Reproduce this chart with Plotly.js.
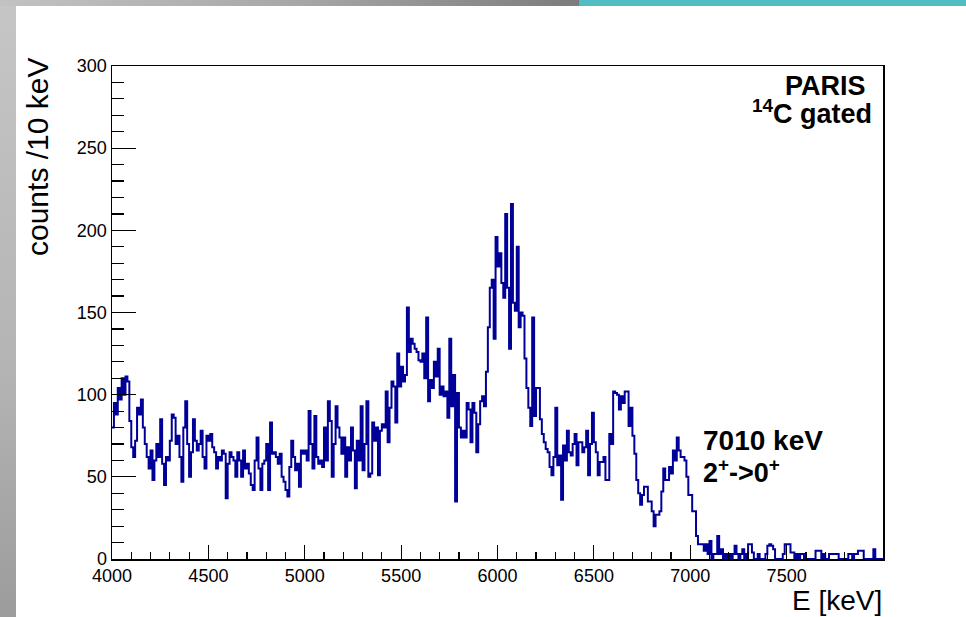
<!DOCTYPE html>
<html>
<head>
<meta charset="utf-8">
<script src="https://cdn.plot.ly/plotly-3.0.1.min.js"></script>
<style>
  html, body { margin: 0; padding: 0; }
  body { width: 966px; height: 617px; position: relative; overflow: hidden;
         background: linear-gradient(180deg, #c6c6c6 0%, #b4b4b4 60%, #9c9c9c 100%); }
  #topbar { position: absolute; left: 0; top: 0; width: 579px; height: 6px;
            background: linear-gradient(90deg, #c2c2c2 0%, #a8a8a8 50%, #7c7c7c 100%); }
  #teal { position: absolute; left: 579px; top: 0; width: 387px; height: 6px; background: #52bcc4; }
  #panel { position: absolute; left: 16px; top: 6px; width: 950px; height: 611px; background: #ffffff; }
  #plot { position: absolute; left: 0; top: 0; width: 966px; height: 617px; }
</style>
</head>
<body>
<div id="topbar"></div>
<div id="teal"></div>
<div id="panel"></div>
<div id="plot"></div>
<script>
// ---- data: 10 keV bins from 4000 keV to 8000 keV ----
const energyStart = 4000;   // keV, lower edge of first bin
const binWidth = 10;        // keV
const counts = [
  80, 95, 88, 104, 97, 110, 100, 111, 108, 84,     // 4000
  68, 62, 72, 92, 88, 97, 80, 70, 62, 55,          // 4100
  66, 48, 60, 70, 62, 85, 58, 45, 62, 60,          // 4200
  72, 88, 86, 70, 75, 62, 47, 80, 96, 70,          // 4300
  50, 65, 85, 72, 66, 70, 78, 62, 55, 75,          // 4400
  72, 76, 68, 65, 55, 62, 60, 66, 64, 37,          // 4500
  58, 65, 62, 60, 50, 65, 60, 50, 66, 55,          // 4600
  58, 52, 45, 42, 60, 74, 55, 42, 58, 60,          // 4700
  70, 42, 83, 64, 65, 62, 58, 64, 50, 47,          // 4800
  42, 38, 56, 72, 62, 54, 58, 44, 66, 64,          // 4900
  66, 60, 90, 70, 55, 87, 62, 58, 60, 56,          // 5000
  80, 60, 96, 84, 50, 70, 93, 80, 74, 64,          // 5100
  74, 50, 68, 60, 80, 66, 43, 72, 60, 93,          // 5200
  54, 70, 96, 50, 52, 83, 72, 80, 51, 78,          // 5300
  82, 80, 102, 71, 92, 108, 105, 83, 125, 105,     // 5400
  117, 108, 112, 153, 126, 134, 131, 128, 126, 121,// 5500
  120, 125, 110, 147, 96, 109, 104, 120, 111, 128, // 5600
  100, 105, 99, 102, 86, 134, 93, 112, 35, 101,    // 5700
  80, 74, 78, 74, 95, 91, 71, 95, 89, 65,          // 5800
  82, 96, 99, 93, 114, 141, 165, 170, 134, 196,    // 5900
  178, 186, 168, 159, 210, 165, 128, 216, 156, 151,// 6000
  190, 141, 150, 148, 122, 104, 92, 81, 147, 87,   // 6100
  104, 104, 85, 76, 71, 67, 65, 56, 51, 62,        // 6200
  92, 57, 63, 36, 69, 60, 78, 65, 63, 70,          // 6300
  76, 57, 71, 71, 65, 68, 78, 51, 70, 89,          // 6400
  71, 65, 51, 59, 59, 62, 48, 48, 76, 70,          // 6500
  102, 101, 100, 91, 99, 95, 102, 102, 81, 92,     // 6600
  75, 64, 48, 40, 33, 39, 44, 44, 35, 35,          // 6700
  29, 20, 27, 27, 29, 41, 55, 48, 48, 56,          // 6800
  52, 66, 60, 74, 66, 62, 62, 60, 50, 39,          // 6900
  39, 29, 29, 14, 9, 9, 9, 5, 9, 3,                // 7000
  11, 0, 3, 3, 14, 3, 6, 0, 3, 0,                  // 7100
  3, 0, 3, 8, 3, 0, 3, 6, 0, 3,                    // 7200
  9, 9, 4, 0, 0, 3, 0, 0, 0, 3,                    // 7300
  8, 9, 8, 6, 0, 0, 0, 0, 3, 9,                    // 7400
  9, 9, 4, 4, 0, 3, 0, 3, 3, 0,                    // 7500
  0, 0, 0, 0, 0, 5, 5, 5, 0, 3,                    // 7600
  0, 0, 3, 3, 3, 3, 3, 0, 0, 0,                    // 7700
  0, 0, 3, 3, 0, 3, 3, 5, 5, 5,                    // 7800
  0, 0, 0, 0, 0, 6, 0, 0, 0, 0                     // 7900
];
const xTickVals = [4000, 4500, 5000, 5500, 6000, 6500, 7000, 7500];
const xTickText = ["4000", "4500", "5000", "5500", "6000", "6500", "7000", "7500"];
const yTickVals = [0, 50, 100, 150, 200, 250, 300];
const yTickText = ["0", "50", "100", "150", "200", "250", "300"];
const xTitle = "E [keV]";
const yTitle = "counts /10 keV";
const labelTop1 = "PARIS";
const labelTop2 = "<sup>14</sup>C gated";
const labelPeak1 = "7010 keV";
const labelPeak2 = "2<sup>+</sup>-&gt;0<sup>+</sup>";

// step outline: left edges of each bin plus the final upper edge
const edges = counts.map((_, i) => energyStart + i * binWidth);
const xs = edges.concat([energyStart + counts.length * binWidth]);
const ys = counts.concat([counts[counts.length - 1]]);

const W = 966, H = 617;
const L = 112, R = 83, T = 66, B = 58;
const pw = W - L - R, ph = H - T - B;
const px = x => (x - L) / pw;        // page pixel -> paper x
const py = y => (H - B - y) / ph;    // page pixel -> paper y

const font = "Liberation Sans, Arial, Helvetica, sans-serif";

const trace = {
  x: xs, y: ys, type: 'scatter', mode: 'lines',
  line: { shape: 'hv', color: '#000099', width: 2 },
  hoverinfo: 'skip', cliponaxis: true
};

const layout = {
  width: W, height: H,
  margin: { l: L, r: R, t: T, b: B, pad: 0 },
  paper_bgcolor: 'rgba(0,0,0,0)',
  plot_bgcolor: '#ffffff',
  showlegend: false,
  font: { family: font, color: '#000000', size: 18 },
  xaxis: {
    range: [4000, 8000], showgrid: false, zeroline: false,
    showline: true, linecolor: '#000', linewidth: 1.5, mirror: true,
    ticks: 'inside', ticklen: 14, tickwidth: 1.2, tickcolor: '#000',
    tickmode: 'array', tickvals: xTickVals, ticktext: xTickText,
    tickfont: { family: font, size: 18, color: '#000' },
    minor: { ticks: 'inside', ticklen: 7, dtick: 100, tickwidth: 1.2, tickcolor: '#000', showgrid: false }
  },
  yaxis: {
    range: [0, 300], showgrid: false, zeroline: false,
    showline: true, linecolor: '#000', linewidth: 1.5, mirror: true,
    ticks: 'inside', ticklen: 24, tickwidth: 1.2, tickcolor: '#000',
    tickmode: 'array', tickvals: yTickVals, ticktext: yTickText,
    tickfont: { family: font, size: 18, color: '#000' },
    minor: { ticks: 'inside', ticklen: 12, dtick: 10, tickwidth: 1.2, tickcolor: '#000', showgrid: false }
  },
  annotations: [
    { text: yTitle, xref: 'paper', yref: 'paper', x: px(37), y: py(56),
      xanchor: 'center', yanchor: 'top', textangle: -90, showarrow: false,
      font: { family: font, size: 30, color: '#000' } },
    { text: xTitle, xref: 'paper', yref: 'paper', x: px(884), y: py(600),
      xanchor: 'right', yanchor: 'middle', showarrow: false,
      font: { family: font, size: 28, color: '#000' } },
    { text: '<b>' + labelTop1 + '</b>', xref: 'paper', yref: 'paper', x: px(868), y: py(86),
      xanchor: 'right', yanchor: 'middle', showarrow: false,
      font: { family: font, size: 27, color: '#000' } },
    { text: '<b>' + labelTop2 + '</b>', xref: 'paper', yref: 'paper', x: px(874), y: py(112),
      xanchor: 'right', yanchor: 'middle', showarrow: false,
      font: { family: font, size: 27, color: '#000' } },
    { text: '<b>' + labelPeak1 + '</b>', xref: 'paper', yref: 'paper', x: px(701), y: py(440),
      xanchor: 'left', yanchor: 'middle', showarrow: false,
      font: { family: font, size: 28, color: '#000' } },
    { text: '<b>' + labelPeak2 + '</b>', xref: 'paper', yref: 'paper', x: px(701), y: py(471),
      xanchor: 'left', yanchor: 'middle', showarrow: false,
      font: { family: font, size: 27, color: '#000' } }
  ]
};

Plotly.newPlot('plot', [trace], layout, { displayModeBar: false, staticPlot: true });
</script>
</body>
</html>
